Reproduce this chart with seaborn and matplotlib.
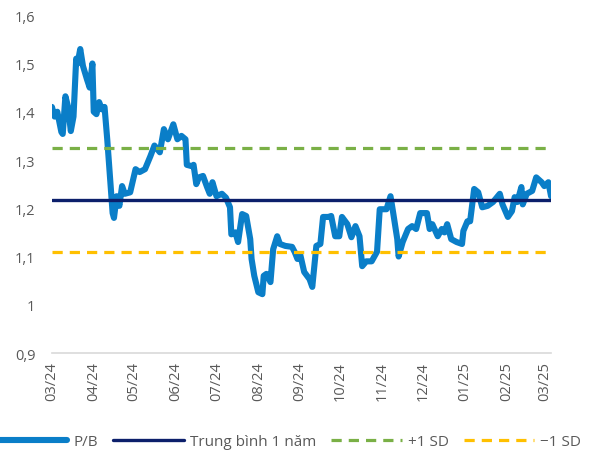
import pandas as pd
import matplotlib
matplotlib.use("Agg")
import matplotlib.pyplot as plt
import matplotlib.dates as mdates
from matplotlib.ticker import FuncFormatter
import seaborn as sns

# P/B readings: days after 2024-03-01 and value
day_offset = [0, 2, 4, 7, 8, 10, 12, 14, 16, 18, 19, 21, 23, 26, 28, 30, 31, 33, 35, 37,
              39, 41, 43, 45, 46, 48, 50, 52, 54, 58, 62, 65, 69, 73, 76, 80, 83, 86, 90, 93,
              96, 99, 100, 104, 105, 107, 109, 112, 115, 117, 119, 122, 126, 129, 132, 133, 136, 138, 141, 144,
              147, 148, 150, 153, 156, 157, 159, 162, 164, 167, 169, 173, 178, 180, 182, 184, 187, 191, 193, 196,
              199, 201, 205, 207, 210, 213, 215, 219, 222, 225, 228, 230, 233, 237, 241, 243, 248, 251, 253, 256,
              257, 260, 264, 267, 270, 273, 278, 280, 282, 286, 289, 291, 293, 296, 300, 304, 305, 308, 310, 313,
              316, 319, 323, 327, 332, 334, 338, 341, 343, 345, 348, 349, 352, 356, 359, 363, 365, 368, 370]
pb = [1.41, 1.39, 1.40, 1.358, 1.354, 1.432, 1.41, 1.36, 1.39, 1.51, 1.50, 1.53, 1.495, 1.467, 1.45, 1.50, 1.40, 1.395, 1.42, 1.405,
      1.41, 1.343, 1.267, 1.19, 1.18, 1.225, 1.205, 1.246, 1.23, 1.233, 1.281, 1.275, 1.281, 1.308, 1.33, 1.316, 1.364, 1.343, 1.374, 1.343,
      1.35, 1.343, 1.29, 1.287, 1.29, 1.25, 1.264, 1.267, 1.244, 1.23, 1.254, 1.225, 1.23, 1.222, 1.202, 1.146, 1.15, 1.13, 1.188, 1.184,
      1.136, 1.095, 1.06, 1.026, 1.022, 1.06, 1.064, 1.047, 1.115, 1.142, 1.126, 1.122, 1.12, 1.109, 1.095, 1.105, 1.068, 1.053, 1.037, 1.122,
      1.126, 1.182, 1.182, 1.184, 1.142, 1.142, 1.182, 1.167, 1.14, 1.163, 1.142, 1.08, 1.09, 1.09, 1.11, 1.198, 1.198, 1.225, 1.19, 1.136,
      1.10, 1.13, 1.157, 1.163, 1.157, 1.19, 1.19, 1.157, 1.167, 1.142, 1.157, 1.15, 1.167, 1.136, 1.13, 1.126, 1.153, 1.173, 1.173, 1.24,
      1.233, 1.202, 1.205, 1.213, 1.23, 1.208, 1.182, 1.194, 1.223, 1.213, 1.244, 1.208, 1.23, 1.236, 1.264, 1.254, 1.246, 1.254, 1.225]

mean_1y = 1.217
plus_sd = 1.324
minus_sd = 1.110

labels = ["P/B", "Trung bình 1 năm", "+1 SD", "\u22121 SD"]

df = pd.DataFrame({
    "date": pd.Timestamp("2024-03-01") + pd.to_timedelta(day_offset, unit="D"),
    "pb": pb,
})

sns.set_theme(style="white")
plt.rcParams["font.family"] = ["Open Sans", "DejaVu Sans"]

fig = plt.figure(figsize=(5.9, 4.64), dpi=100)
ax = fig.add_axes([0.088, 0.237, 0.846, 0.728])

sns.lineplot(data=df, x="date", y="pb", ax=ax, color="#0a7ec8", linewidth=4.4, label=labels[0])
ax.axhline(mean_1y, color="#0c1f6b", linewidth=2.4, label=labels[1])
ax.axhline(plus_sd, color="#7ab046", linewidth=2.3, linestyle=(0, (3.2, 2.2)), label=labels[2])
ax.axhline(minus_sd, color="#ffc000", linewidth=2.3, linestyle=(0, (3.2, 2.2)), label=labels[3])

ax.set_ylim(0.9, 1.6)
ax.set_yticks([0.9, 1.0, 1.1, 1.2, 1.3, 1.4, 1.5, 1.6])
ax.yaxis.set_major_formatter(FuncFormatter(lambda v, p: f"{v:g}".replace(".", ",")))
ax.set_xlim(df["date"].min(), df["date"].max())
ax.xaxis.set_major_locator(mdates.MonthLocator())
ax.xaxis.set_major_formatter(mdates.DateFormatter("%m/%y"))
ax.set_xlabel("")
ax.set_ylabel("")

for s in ["top", "right", "left"]:
    ax.spines[s].set_visible(False)
ax.spines["bottom"].set_color("#d9d9d9")
ax.spines["bottom"].set_linewidth(1.2)
ax.tick_params(axis="both", length=0, labelsize=10.5, labelcolor="#595959")
ax.tick_params(axis="x", rotation=90, pad=6)
ax.tick_params(axis="y", pad=12)

ax.get_legend().remove()
handles, labs = ax.get_legend_handles_labels()
fig.legend(handles, labs, loc="lower center", bbox_to_anchor=(0.49, 0.0), ncol=4, frameon=False,
           handlelength=4.6, columnspacing=1.0, handletextpad=0.4, fontsize=11,
           labelcolor="#595959")

fig.savefig("out.png", dpi=100)
